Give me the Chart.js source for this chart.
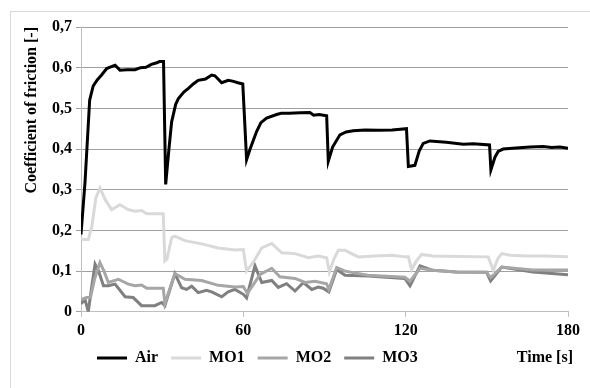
<!DOCTYPE html>
<html>
<head>
<meta charset="utf-8">
<script src="https://cdn.jsdelivr.net/npm/chart.js@4/dist/chart.umd.min.js"></script>
<style>
  body { margin: 0; background: #fff; overflow: hidden; }
  #frame { position: absolute; left: 10px; top: 11px; width: 700px; height: 500px; border: 1px solid #d9d9d9; }
  #wrap { position: absolute; left: 0; top: 0; width: 590px; height: 388px; }
</style>
</head>
<body>
<div id="frame"></div>
<div id="wrap"><canvas id="chart"></canvas></div>
<script>
// time [s] and coefficient of friction for each test
var airT = [0, 1.5, 3.2, 4.5, 6, 7.6, 9.5, 11, 12.6, 14.4, 17, 20, 22, 24, 26, 28, 29, 30.5, 31.3, 32.5, 33.5, 35, 36, 38, 39.7, 41.5, 43.3, 46, 48.3, 49.5, 52, 54.4, 56, 58, 59.8, 61.2, 62.5, 64.9, 66.5, 68.6, 72.3, 74, 77, 81, 84.6, 86, 88, 90.8, 91.4, 93, 95.7, 98, 100.6, 105, 110, 115, 120.3, 121, 123.4, 125, 126.5, 129, 135, 141.3, 145, 151, 151.5, 153, 154.2, 156, 162, 166, 170.8, 174, 177, 180];
var airV = [0.19, 0.32, 0.52, 0.555, 0.57, 0.582, 0.598, 0.602, 0.606, 0.594, 0.595, 0.595, 0.6, 0.601, 0.608, 0.612, 0.615, 0.615, 0.313, 0.40, 0.467, 0.51, 0.524, 0.54, 0.549, 0.56, 0.569, 0.572, 0.582, 0.58, 0.563, 0.569, 0.567, 0.563, 0.56, 0.374, 0.40, 0.443, 0.465, 0.476, 0.485, 0.488, 0.488, 0.489, 0.49, 0.483, 0.485, 0.482, 0.37, 0.405, 0.435, 0.442, 0.445, 0.447, 0.446, 0.447, 0.45, 0.357, 0.36, 0.395, 0.414, 0.42, 0.417, 0.412, 0.413, 0.41, 0.349, 0.38, 0.394, 0.40, 0.403, 0.405, 0.406, 0.404, 0.405, 0.402];

var mo1T = [0, 2.7, 4, 5.5, 7, 9, 11.3, 14.4, 17.5, 20, 22.4, 24.3, 30.4, 31, 31.8, 33.5, 34.7, 38.4, 44.6, 50.7, 56.9, 60, 61.2, 63.5, 66.8, 70.5, 74.2, 79.1, 84, 87.7, 90.8, 91.8, 93.5, 95.1, 97.6, 102.5, 108.6, 114.8, 119.7, 121, 122.2, 124, 125.9, 130, 140, 150.5, 152.4, 154, 155.5, 158.7, 165, 172, 180];
var mo1V = [0.178, 0.178, 0.21, 0.28, 0.304, 0.275, 0.251, 0.263, 0.251, 0.247, 0.249, 0.241, 0.241, 0.125, 0.13, 0.182, 0.186, 0.175, 0.167, 0.157, 0.152, 0.153, 0.100, 0.12, 0.157, 0.168, 0.145, 0.143, 0.133, 0.137, 0.133, 0.098, 0.13, 0.151, 0.151, 0.135, 0.137, 0.139, 0.135, 0.135, 0.104, 0.125, 0.141, 0.137, 0.136, 0.135, 0.102, 0.13, 0.143, 0.139, 0.137, 0.137, 0.135];

var mo2T = [0, 2, 3.5, 5, 7, 8.5, 10.1, 13.8, 17.5, 20, 22.4, 24.3, 30.4, 31, 34.7, 38.4, 44.6, 50.7, 56.9, 60, 61.5, 66.2, 70.5, 73.5, 79.1, 82.8, 86.5, 90.8, 91.6, 94.5, 97.6, 106, 119.7, 121.6, 125.3, 130, 138.8, 149.9, 151.4, 155.5, 167, 180];
var mo2V = [0.03, 0.035, 0.035, 0.08, 0.121, 0.1, 0.072, 0.08, 0.068, 0.064, 0.066, 0.058, 0.058, 0.02, 0.094, 0.08, 0.077, 0.065, 0.061, 0.062, 0.045, 0.092, 0.107, 0.086, 0.082, 0.072, 0.075, 0.069, 0.055, 0.109, 0.1, 0.09, 0.085, 0.075, 0.107, 0.102, 0.098, 0.097, 0.084, 0.11, 0.103, 0.103];

var mo3T = [0, 1.5, 2.7, 3.5, 5.2, 6.5, 8.3, 10.1, 12.6, 16.3, 19.3, 22.4, 27.3, 29.8, 31, 34.7, 37.2, 39, 40.9, 43.3, 46.4, 48.3, 52, 54.4, 56.9, 60, 61.2, 64.3, 66.8, 70.5, 72.9, 76, 79.1, 82.2, 85.3, 87.7, 89.5, 91.6, 94.5, 97.6, 106.2, 119.7, 121.6, 125.3, 130, 138.8, 149.9, 151.4, 155.5, 167, 180];
var mo3V = [0.02, 0.03, 0.0, 0.04, 0.117, 0.1, 0.064, 0.064, 0.068, 0.037, 0.035, 0.015, 0.015, 0.023, 0.015, 0.094, 0.059, 0.055, 0.063, 0.047, 0.053, 0.049, 0.037, 0.049, 0.055, 0.043, 0.034, 0.113, 0.072, 0.077, 0.06, 0.069, 0.051, 0.072, 0.055, 0.061, 0.058, 0.049, 0.104, 0.09, 0.088, 0.082, 0.064, 0.113, 0.102, 0.098, 0.097, 0.076, 0.11, 0.098, 0.091];

var xTicks = [0, 60, 120, 180];
var yMax = 0.7;

function pts(t, v) {
    return t.map(function(x, i) { return { x: x, y: v[i] }; });
}

var font = { family: "'Liberation Serif', 'Times New Roman', serif", size: 16, weight: 'bold' };

function line(label, t, v, color) {
    return {
        label: label,
        data: pts(t, v),
        borderColor: color,
        backgroundColor: color,
        borderWidth: 3,
        pointRadius: 0,
        tension: 0,
        fill: false
    };
}

var extras = {
    id: 'extras',
    afterLayout: function(chart) {
        // push the legend to where the original has it
        chart.legend.left = 84;
        chart.legend.top -= 7;
    },
    afterDraw: function(chart) {
        var ctx = chart.ctx;
        var hb = chart.legend.legendHitBoxes[0];
        ctx.save();
        ctx.font = 'bold 16px ' + font.family;
        ctx.fillStyle = '#000';
        ctx.textAlign = 'right';
        ctx.textBaseline = 'middle';
        ctx.fillText('Time [s]', chart.scales.x.right + 5, hb.top + hb.height / 2);
        ctx.restore();
    }
};

new Chart(document.getElementById('chart'), {
    type: 'line',
    data: {
        datasets: [
            line('Air', airT, airV, '#000000'),
            line('MO1', mo1T, mo1V, '#d9d9d9'),
            line('MO2', mo2T, mo2V, '#a6a6a6'),
            line('MO3', mo3T, mo3V, '#808080')
        ]
    },
    options: {
        responsive: true,
        maintainAspectRatio: false,
        animation: false,
        layout: { padding: { left: 0, right: 22, top: 27, bottom: 5 } },
        plugins: {
            tooltip: { enabled: false },
            legend: {
                position: 'bottom',
                align: 'start',
                labels: {
                    boxWidth: 30,
                    boxHeight: 3,
                    padding: 13,
                    color: '#000',
                    font: font,
                    generateLabels: function(chart) {
                        return Chart.defaults.plugins.legend.labels.generateLabels(chart).map(function(l) {
                            l.lineWidth = 0;
                            return l;
                        });
                    }
                }
            }
        },
        scales: {
            x: {
                type: 'linear',
                min: 0,
                max: 180,
                afterBuildTicks: function(scale) {
                    scale.ticks = xTicks.map(function(v) { return { value: v }; });
                },
                grid: { drawOnChartArea: false, drawTicks: true, tickLength: 5, color: '#bfbfbf' },
                border: { color: '#bfbfbf' },
                ticks: { color: '#000', font: font, padding: 4, maxRotation: 0 }
            },
            y: {
                min: 0,
                max: yMax,
                afterFit: function(scale) { scale.width = 81; },
                grid: { color: '#a0a0a0', tickLength: 5 },
                border: { color: '#bfbfbf' },
                ticks: {
                    stepSize: 0.1,
                    color: '#000',
                    font: font,
                    padding: 4,
                    callback: function(v) { return v === 0 ? '0' : v.toFixed(1).replace('.', ','); }
                },
                title: {
                    display: true,
                    text: 'Coefficient of friction [-]',
                    align: 'end',
                    color: '#000',
                    font: font,
                    padding: { top: 22, bottom: 0 }
                }
            }
        }
    },
    plugins: [extras]
});
</script>
</body>
</html>
